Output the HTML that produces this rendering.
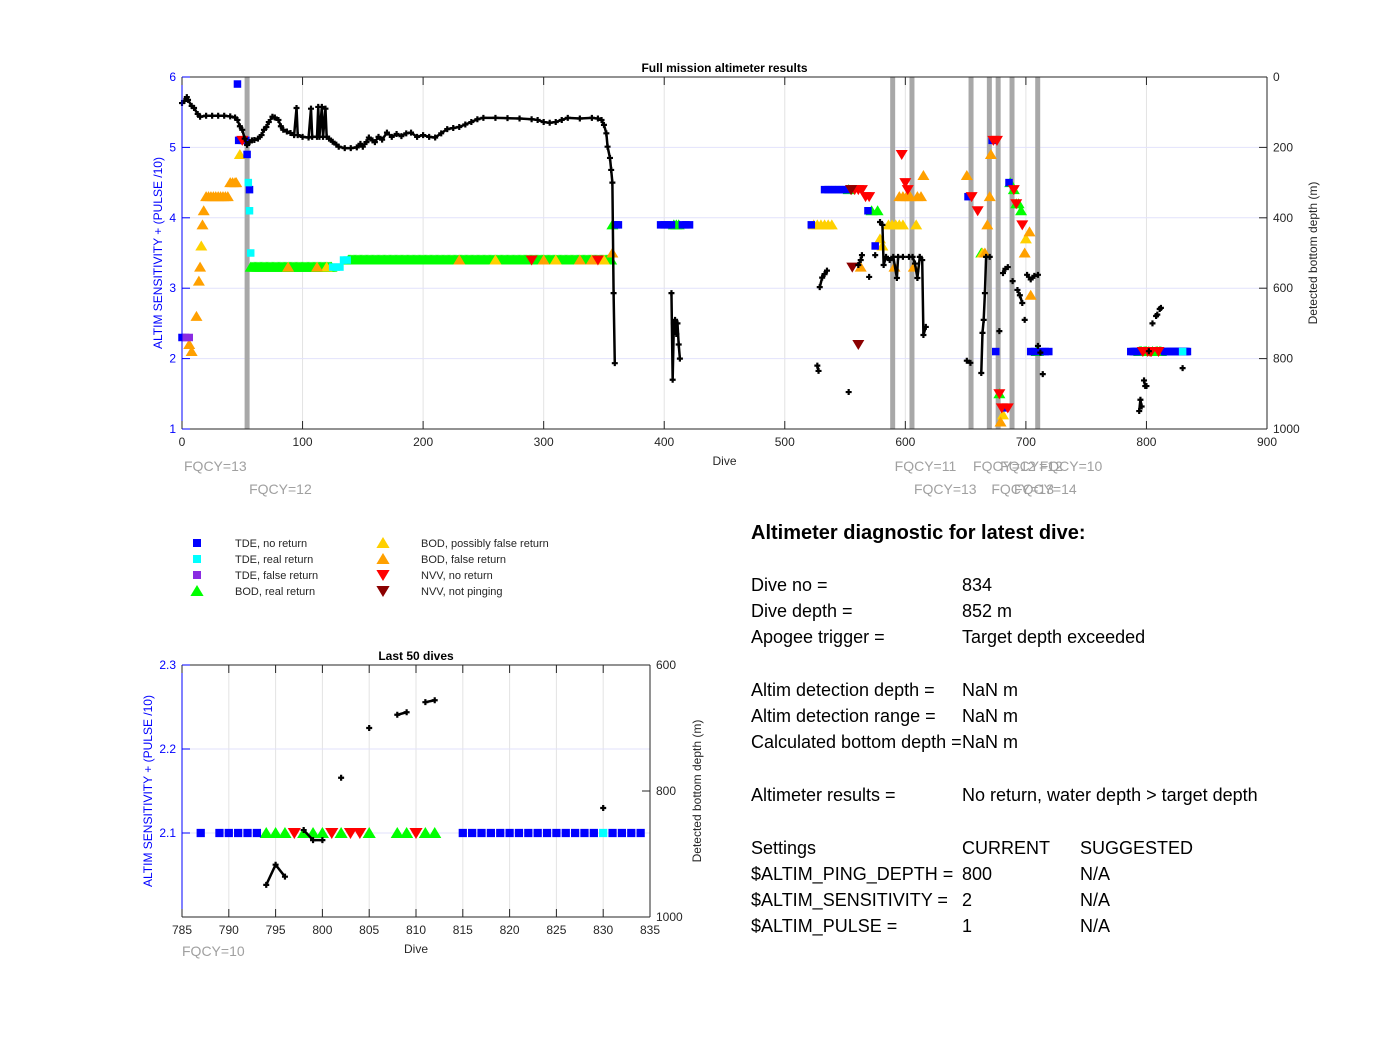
<!DOCTYPE html>
<html><head><meta charset="utf-8"><style>
body{margin:0;background:#fff;}
svg text{font-family:"Liberation Sans",Arial,sans-serif;}
</style></head><body>
<svg id="fig" width="1400" height="1032" viewBox="0 0 1400 1032" xmlns="http://www.w3.org/2000/svg">
<rect width="1400" height="1032" fill="#fff"/>
<g id="main"></g>
<g id="last"></g>
<g id="legend"></g>
<g font-size="18" fill="#000">
<text x="751" y="539" font-size="20" font-weight="bold">Altimeter diagnostic for latest dive:</text>
<text x="751" y="591">Dive no =</text><text x="962" y="591">834</text>
<text x="751" y="617">Dive depth =</text><text x="962" y="617">852 m</text>
<text x="751" y="643">Apogee trigger =</text><text x="962" y="643">Target depth exceeded</text>
<text x="751" y="696">Altim detection depth =</text><text x="962" y="696">NaN m</text>
<text x="751" y="722">Altim detection range =</text><text x="962" y="722">NaN m</text>
<text x="751" y="748">Calculated bottom depth =</text><text x="962" y="748">NaN m</text>
<text x="751" y="801">Altimeter results =</text><text x="962" y="801">No return, water depth &gt; target depth</text>
<text x="751" y="854">Settings</text><text x="962" y="854">CURRENT</text><text x="1080" y="854">SUGGESTED</text>
<text x="751" y="880">$ALTIM_PING_DEPTH =</text><text x="962" y="880">800</text><text x="1080" y="880">N/A</text>
<text x="751" y="906">$ALTIM_SENSITIVITY =</text><text x="962" y="906">2</text><text x="1080" y="906">N/A</text>
<text x="751" y="932">$ALTIM_PULSE =</text><text x="962" y="932">1</text><text x="1080" y="932">N/A</text>
</g>
</svg>
<script>
// ---------- data ----------
const depthDive=[0,2,4,5,8,10,13,15,20,25,30,35,40,44,46,48,50,52,54,56,58,60,63,66,68,70,72,75,77,80,82,84,87,90,93,95,96,100,105,107,108,112,113,114,116,117,119,120,122,125,128,130,135,140,145,148,150,153,155,158,160,163,166,170,174,178,182,186,190,195,200,205,210,215,220,225,230,235,240,245,250,260,270,280,290,295,300,305,310,315,320,330,340,345,348,350,352,353,355,356,357,358,359,null,
406,407,408,409,410,411,412,413,null,527,528,null,529,531,533,535,null,553,null,561,563,564,null,570,null,575,null,579,581,582,584,587,590,593,594,598,null,603,606,608,610,612,614,615,617,null,651,654,null,663,664,665,666,667,670,null,678,null,681,683,685,null,689,null,693,695,697,null,699,null,701,704,707,710,null,710,null,712,null,714,null,794,795,796,null,798,799,800,null,802,null,805,null,808,809,null,811,812,null,830];
const depthVal=[74,68,57,65,82,88,105,113,110,110,110,110,112,115,122,140,150,175,193,185,180,179,175,165,150,142,128,113,115,122,140,150,155,159,165,88,165,170,172,90,170,170,85,170,85,170,90,170,175,184,192,198,202,202,200,190,198,185,172,180,185,170,178,158,170,162,168,160,158,170,165,170,172,160,148,145,142,135,128,120,116,116,117,118,120,122,128,130,128,122,116,118,116,118,122,136,160,198,230,264,300,614,813,null,
614,860,700,690,730,700,760,800,null,820,835,null,597,570,560,550,null,895,null,534,520,506,null,568,null,506,null,412,420,534,511,520,511,571,511,511,null,511,511,530,571,511,520,733,710,null,806,812,null,841,727,690,614,511,511,null,722,null,557,545,540,null,580,null,605,620,642,null,690,null,562,575,565,562,null,764,null,783,null,844,null,949,917,936,null,862,878,878,null,779,null,700,null,679,675,null,659,656,null,827];

const fqcyDive=[0,54,589.5,605.5,654.5,669.7,677,688.5,709.8];
const fqcyLabel=["FQCY=13","FQCY=12","FQCY=11","FQCY=13","FQCY=12","FQCY=13","FQCY=12","FQCY=14","FQCY=10"];
const fqcyRow=[0,1,0,1,0,1,0,1,0];
const greyLineDive=[54,589.5,605.5,654.5,669.7,677,688.5,709.8];

const tdeNoDive=[0,46,47,50,53,54,56,360,362,397,400,403,406,415,418,421,522,533,536,539,542,545,548,551,569,575,652,672,675,683,686,704,707,713,716,719,787,789,790,791,792,793,815,816,817,818,819,820,821,822,823,824,825,826,827,828,829,831,832,833,834];
const tdeNoVal=[2.3,5.9,5.1,5.1,5.1,4.9,4.4,3.9,3.9,3.9,3.9,3.9,3.9,3.9,3.9,3.9,3.9,4.4,4.4,4.4,4.4,4.4,4.4,4.4,4.1,3.6,4.3,5.1,2.1,1.3,4.5,2.1,2.1,2.1,2.1,2.1,2.1,2.1,2.1,2.1,2.1,2.1,2.1,2.1,2.1,2.1,2.1,2.1,2.1,2.1,2.1,2.1,2.1,2.1,2.1,2.1,2.1,2.1,2.1,2.1,2.1];
const tdeRealDive=[55,56,57,125,128,131,134,137,830];
const tdeRealVal=[4.5,4.1,3.5,3.3,3.3,3.3,3.4,3.4,2.1];
const tdeFalseDive=[3,6];
const tdeFalseVal=[2.3,2.3];
const greenRunStart=[57,138];
const greenRunEnd=[124,356];
const greenRunVal=[3.3,3.4];
const bodRealDive=[357,408,410,412,553,572,577,663,678,687,690,692,694,696,709,710,794,795,796,798,799,800,802,805,808,809,811,812];
const bodRealVal=[3.9,3.9,3.9,3.9,4.4,4.1,4.1,3.5,1.5,4.5,4.4,4.2,4.2,4.1,2.1,2.1,2.1,2.1,2.1,2.1,2.1,2.1,2.1,2.1,2.1,2.1,2.1,2.1];
const bodPossDive=[16,48,524,527,530,533,536,539,579,581,586,589,592,595,598,609,664,681,700,350,120,260,310];
const bodPossVal=[3.6,4.9,3.9,3.9,3.9,3.9,3.9,3.9,3.7,3.6,3.9,3.9,3.9,3.9,3.9,3.9,3.5,1.2,3.7,3.4,3.3,3.4,3.4];
const bodFalseDive=[6,8,12,14,15,17,18,20,22,24,26,28,30,32,34,36,38,40,42,44,45,357,563,591,595,598,601,604,607,610,613,615,651,666,668,670,671,679,699,703,704,88,112,230,300,330,340];
const bodFalseVal=[2.2,2.1,2.6,3.1,3.3,3.9,4.1,4.3,4.3,4.3,4.3,4.3,4.3,4.3,4.3,4.3,4.3,4.5,4.5,4.5,4.5,3.5,3.3,3.3,4.3,4.3,4.3,4.3,3.3,4.3,4.3,4.6,4.6,3.5,3.9,4.3,4.9,1.1,3.5,3.8,2.9,3.3,3.3,3.4,3.4,3.4,3.4];
const nvvNoDive=[290,345,555,558,561,564,567,570,597,600,602,655,660,673,676,678,680,685,690,692,697,797,801,803,804,810,50];
const nvvNoVal=[3.4,3.4,4.4,4.4,4.4,4.4,4.3,4.3,4.9,4.5,4.4,4.3,4.1,5.1,5.1,1.5,1.3,1.3,4.4,4.2,3.9,2.1,2.1,2.1,2.1,2.1,5.1];
const nvvNotDive=[555,556,561];
const nvvNotVal=[4.4,3.3,2.2];

const mainXTicks=[0,100,200,300,400,500,600,700,800,900];
const mainLTicks=[1,2,3,4,5,6];
const mainRTicks=[0,200,400,600,800,1000];
const lastXTicks=[785,790,795,800,805,810,815,820,825,830,835];
const lastLTicks=[2.1,2.2,2.3];
const lastLLabels=["2.1","2.2","2.3"];
const lastRTicks=[600,800,1000];

// ---------- helpers ----------
const NS="http://www.w3.org/2000/svg";
function mk(parent,tag,attrs,txt){const e=document.createElementNS(NS,tag);for(const k in attrs)e.setAttribute(k,attrs[k]);if(txt!==undefined)e.textContent=txt;parent.appendChild(e);return e;}
const C={blue:"#0000ff",cyan:"#00ffff",purple:"#8a2be2",green:"#00ff00",yellow:"#ffd000",orange:"#ffa000",red:"#ff0000",dark:"#8b0000"};

function drawMarker(g,kind,x,y,color,s){
  let e;
  if(kind==="sq"){e=mk(g,"rect",{x:x-s/2,y:y-s/2,width:s,height:s,fill:color});}
  else if(kind==="up"){const w=s*0.6;e=mk(g,"polygon",{points:`${x-w},${y+s*0.45} ${x+w},${y+s*0.45} ${x},${y-s*0.55}`,fill:color});}
  else {const w=s*0.6;e=mk(g,"polygon",{points:`${x-w},${y-s*0.45} ${x+w},${y-s*0.45} ${x},${y+s*0.55}`,fill:color});}
  
  
}

function drawChart(g,cfg){
  const {x0,x1,y0,y1,xmin,xmax,lmin,lmax,rmin,rmax}=cfg;
  const X=d=>x0+(d-xmin)/(xmax-xmin)*(x1-x0);
  const YL=v=>y1-(v-lmin)/(lmax-lmin)*(y1-y0);
  const YR=v=>y0+(v-rmin)/(rmax-rmin)*(y1-y0);
  // grid
  cfg.xTicks.forEach(t=>{if(t>xmin&&t<xmax){const l=mk(g,"line",{x1:X(t),x2:X(t),y1:y0,y2:y1,stroke:"#e3e3e3","stroke-width":1});}});
  cfg.lTicks.forEach(t=>{if(t>lmin&&t<lmax){const l=mk(g,"line",{x1:x0,x2:x1,y1:YL(t),y2:YL(t),stroke:"#e2e2fb","stroke-width":1});}});
  // grey FQCY lines
  (cfg.grey||[]).forEach(d=>{const l=mk(g,"line",{x1:X(d),x2:X(d),y1:y0,y2:y1,stroke:"#a8a8a8","stroke-width":5});});
  // markers
  const mg=mk(g,"g",{});
  const s=cfg.ms;
  const inR=d=>d>=xmin&&d<=xmax;
  const series=[["up",C.green,bodRealDive,bodRealVal],["up",C.yellow,bodPossDive,bodPossVal],["up",C.orange,bodFalseDive,bodFalseVal],
    ["sq",C.blue,tdeNoDive,tdeNoVal],["sq",C.cyan,tdeRealDive,tdeRealVal],["sq",C.purple,tdeFalseDive,tdeFalseVal],
    ["dn",C.red,nvvNoDive,nvvNoVal],["dn",C.dark,nvvNotDive,nvvNotVal]];
  if(cfg.runs){greenRunStart.forEach((a,i)=>{for(let d=a;d<=greenRunEnd[i];d++)drawMarker(mg,"up",X(d),YL(greenRunVal[i]),C.green,s);});}
  series.forEach(([k,c,ds,vs])=>ds.forEach((d,i)=>{if(inR(d))drawMarker(mg,k,X(d),YL(vs[i]),c,k==="sq"?s*0.75:s);}));
  // depth line
  const dg=mk(g,"g",{});
  let seg=[];const flush=()=>{if(seg.length>1){const p=mk(dg,"polyline",{points:seg.join(" "),fill:"none",stroke:"#000","stroke-width":cfg.lw});}seg=[];};
  depthDive.forEach((d,i)=>{if(d===null||!inR(d)){flush();return;}const x=X(d),y=YR(depthVal[i]);seg.push(x+","+y);
    const pm=mk(dg,"path",{d:`M${x-3},${y}h6M${x},${y-3}v6`,stroke:"#000","stroke-width":2.2});});
  flush();
  // axes box
  const ax=mk(g,"g",{});
  mk(ax,"line",{x1:x0,x2:x1,y1:y0,y2:y0,stroke:"#262626"});
  mk(ax,"line",{x1:x0,x2:x1,y1:y1,y2:y1,stroke:"#262626"});
  mk(ax,"line",{x1:x1,x2:x1,y1:y0,y2:y1,stroke:"#262626"});
  mk(ax,"line",{x1:x0,x2:x0,y1:y0,y2:y1,stroke:"#0000ff"});
  cfg.xTicks.forEach(t=>{const x=X(t);mk(ax,"line",{x1:x,x2:x,y1:y1,y2:y1-8,stroke:"#262626"});mk(ax,"line",{x1:x,x2:x,y1:y0,y2:y0+8,stroke:"#262626"});
    const tx=mk(ax,"text",{x:x,y:y1+17,"text-anchor":"middle","font-size":12,fill:"#262626"},String(t));});
  cfg.lTicks.forEach((t,i)=>{const y=YL(t);mk(ax,"line",{x1:x0,x2:x0+8,y1:y,y2:y,stroke:"#0000ff"});
    const tx=mk(ax,"text",{x:x0-6,y:y+4,"text-anchor":"end","font-size":12,fill:"#0000ff"},cfg.lLabels?cfg.lLabels[i]:String(t));});
  cfg.rTicks.forEach(t=>{const y=YR(t);mk(ax,"line",{x1:x1,x2:x1-8,y1:y,y2:y,stroke:"#262626"});
    const tx=mk(ax,"text",{x:x1+6,y:y+4,"font-size":12,fill:"#262626"},String(t));});
  let t;
  t=mk(g,"text",{x:(x0+x1)/2,y:y0-5,"text-anchor":"middle","font-size":12,"font-weight":"bold"},cfg.title);
  t=mk(g,"text",{x:(x0+x1)/2,y:y1+36,"text-anchor":"middle","font-size":12,fill:"#262626"},"Dive");
  t=mk(g,"text",{x:cfg.lyx,y:(y0+y1)/2,"text-anchor":"middle","font-size":12,fill:"#0000ff",transform:`rotate(-90 ${cfg.lyx} ${(y0+y1)/2})`},"ALTIM SENSITIVITY + (PULSE /10)");
  t=mk(g,"text",{x:cfg.ryx,y:(y0+y1)/2,"text-anchor":"middle","font-size":12,fill:"#262626",transform:`rotate(-90 ${cfg.ryx} ${(y0+y1)/2})`},"Detected bottom depth (m)");
  return X;
}

const gm=document.getElementById("main");
const XM=drawChart(gm,{x0:182,x1:1267,y0:77,y1:429,xmin:0,xmax:900,lmin:1,lmax:6,rmin:0,rmax:1000,xTicks:mainXTicks,lTicks:mainLTicks,rTicks:mainRTicks,grey:greyLineDive,runs:true,ms:10,lw:2.5,title:"Full mission altimeter results",lyx:162,ryx:1317});
fqcyDive.forEach((d,i)=>{const t=mk(gm,"text",{x:XM(d)+2,y:fqcyRow[i]?494:471,"font-size":14,fill:"#a0a0a0"},fqcyLabel[i]);});

const gl=document.getElementById("last");
drawChart(gl,{x0:182,x1:650,y0:665,y1:917,xmin:785,xmax:835,lmin:2.0,lmax:2.3,rmin:600,rmax:1000,xTicks:lastXTicks,lTicks:lastLTicks,lLabels:lastLLabels,rTicks:lastRTicks,runs:false,ms:11,lw:2.5,title:"Last 50 dives",lyx:152,ryx:701});
{const t=mk(gl,"text",{x:182,y:956,"font-size":14,fill:"#a0a0a0"},"FQCY=10");}

// legend
const lg=document.getElementById("legend");
const legItems=[["sq",C.blue,"TDE, no return",197,543],["sq",C.cyan,"TDE, real return",197,559],["sq",C.purple,"TDE, false return",197,575],["up",C.green,"BOD, real return",197,591],
 ["up",C.yellow,"BOD, possibly false return",383,543],["up",C.orange,"BOD, false return",383,559],["dn",C.red,"NVV, no return",383,575],["dn",C.dark,"NVV, not pinging",383,591]];
legItems.forEach(([k,c,l,x,y])=>{const g=mk(lg,"g",{});
  drawMarker(g,k,x,y,c,k==="sq"?8:11);mk(g,"text",{x:x+38,y:y+4,"font-size":11,fill:"#262626"},l);});
</script>
</body></html>
